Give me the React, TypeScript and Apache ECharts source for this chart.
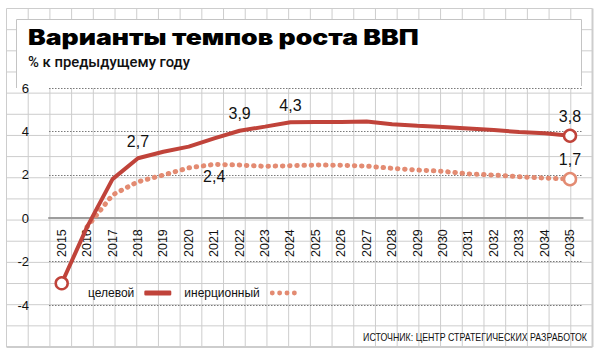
import React, { useEffect, useRef } from "react";
import * as echarts from "echarts";

// ---- data ----
const years = [
  "2015", "2016", "2017", "2018", "2019", "2020", "2021", "2022", "2023", "2024", "2025",
  "2026", "2027", "2028", "2029", "2030", "2031", "2032", "2033", "2034", "2035",
];
const targetValues = [
  -3.0, -0.4, 1.8, 2.76, 3.06, 3.3, 3.68, 4.03, 4.22, 4.42, 4.43,
  4.43, 4.46, 4.33, 4.26, 4.2, 4.13, 4.06, 3.97, 3.91, 3.8,
];
const inertialValues = [
  null, -0.4, 1.07, 1.68, 1.99, 2.32, 2.48, 2.45, 2.39, 2.42, 2.45,
  2.44, 2.4, 2.3, 2.22, 2.16, 2.04, 1.99, 1.91, 1.85, 1.8,
];
const targetLabelYears = ["2018", "2022", "2024", "2035"];
const targetLabelTexts = ["2,7", "3,9", "4,3", "3,8"];
const inertialLabelYears = ["2021", "2035"];
const inertialLabelTexts = ["2,4", "1,7"];
const targetMarkerYears = ["2015", "2035"];
const inertialMarkerYears = ["2035"];
const seriesNames = ["целевой", "инерционный"];
const yTicks = { min: -4, max: 6, interval: 2 };
const titleText = "Варианты темпов роста ВВП";
const subtitleText = "% к предыдущему году";
const sourceText = "ИСТОЧНИК: ЦЕНТР СТРАТЕГИЧЕСКИХ РАЗРАБОТОК";

// ---- style ----
const RED = "#c0433a";
const SALMON = "#e38b72";
const SANS = "'Liberation Sans', Arial, sans-serif";
const GRID = { left: 49, right: 19.3, top: 88, bottom: 53 };
const PLOT_H = 358 - GRID.top - GRID.bottom;

function buildData(
  values: (number | null)[],
  labelYears: string[],
  labelTexts: string[],
  markerYears: string[],
  color: string,
  labelPos: string[]
) {
  return values.map((v, i) => {
    const year = years[i];
    const item: any = { value: v === null ? "-" : v };
    const li = labelYears.indexOf(year);
    const isMarker = markerYears.indexOf(year) >= 0;
    if (isMarker) {
      item.symbolSize = 12;
      item.itemStyle = { color: "#fff", borderColor: color, borderWidth: 2.5 };
    }
    if (li >= 0) {
      item.label = {
        show: true,
        formatter: labelTexts[li],
        position: labelPos[li],
        distance: isMarker ? 4 : labelPos[li] === "bottom" ? 4 : 9,
      };
    }
    return item;
  });
}

const dotsIcon =
  "path://M0,2.5a2.5,2.5 0 1,0 5,0a2.5,2.5 0 1,0 -5,0Z" +
  "M7.5,2.5a2.5,2.5 0 1,0 5,0a2.5,2.5 0 1,0 -5,0Z" +
  "M15,2.5a2.5,2.5 0 1,0 5,0a2.5,2.5 0 1,0 -5,0Z" +
  "M22.5,2.5a2.5,2.5 0 1,0 5,0a2.5,2.5 0 1,0 -5,0Z";

function decorations() {
  const els: any[] = [];
  const x0 = 6.5, x1 = 592.5, y0 = 8.5, y1 = 347;
  const cols = 27, rows = 16;
  for (let k = 0; k <= cols; k++) {
    const x = x0 + (k * (x1 - x0)) / cols;
    els.push({
      type: "line", silent: true, z: -20,
      shape: { x1: x, y1: y0, x2: x, y2: y1 },
      style: { stroke: "#cdcdcd", lineWidth: k === cols ? 2 : 1 },
    });
  }
  for (let k = 0; k <= rows; k++) {
    const y = y0 + (k * (y1 - y0)) / rows;
    els.push({
      type: "line", silent: true, z: -20,
      shape: { x1: x0, y1: y, x2: x1, y2: y },
      style: { stroke: "#cdcdcd", lineWidth: k === rows ? 2 : 1 },
    });
  }
  // white title panel
  els.push({
    type: "rect", silent: true, z: -10,
    shape: { x: 16, y: 19, width: 566, height: 69 },
    style: { fill: "#fff" },
  });
  els.push({
    type: "polyline", silent: true, z: -9,
    shape: { points: [[16.5, 88], [16.5, 19.5], [581.5, 19.5], [581.5, 86]] },
    style: { stroke: "#c4c4c4", lineWidth: 1, fill: null },
  });
  els.push({
    type: "text", z: 10, x: 28, y: 38, scaleX: 1.265,
    style: {
      text: titleText, fill: "#000", font: "900 21px Inter, sans-serif",
      verticalAlign: "middle",
    },
  });
  els.push({
    type: "text", z: 10, x: 28, y: 63, scaleX: 1.06,
    style: {
      text: subtitleText, fill: "#111", font: "500 14px Roboto, sans-serif",
      verticalAlign: "middle",
    },
  });
  els.push({
    type: "text", z: 10, x: 587, y: 337, scaleX: 0.8,
    style: {
      text: sourceText, fill: "#111", font: `11px ${SANS}`,
      align: "right", verticalAlign: "middle",
    },
  });
  return els;
}

export default function App() {
  const ref = useRef<HTMLDivElement>(null);
  useEffect(() => {
    if (!ref.current) return;
    const chart = echarts.init(ref.current, undefined, { renderer: "svg" });
    const zeroOffset = -(PLOT_H * (0 - yTicks.min)) / (yTicks.max - yTicks.min);
    chart.setOption({
      animation: false,
      backgroundColor: "#fff",
      graphic: { elements: decorations() },
      grid: GRID,
      legend: {
        left: 83,
        top: 282,
        align: "right",
        itemWidth: 27,
        itemHeight: 5,
        itemGap: 13,
        textStyle: { fontFamily: SANS, fontSize: 12, color: "#111", padding: [0, 5, 0, 0] },
        data: [
          { name: seriesNames[0], icon: "roundRect", itemStyle: { color: RED, borderWidth: 0 } },
          { name: seriesNames[1], icon: dotsIcon, itemStyle: { color: SALMON, borderWidth: 0 } },
        ],
      },
      xAxis: {
        type: "category",
        data: years,
        boundaryGap: true,
        position: "bottom",
        offset: zeroOffset,
        axisLine: { onZero: false, lineStyle: { color: "#9d9d9d", width: 2 } },
        axisTick: { show: false },
        axisLabel: {
          rotate: 90, interval: 0, margin: 11,
          fontFamily: SANS, fontSize: 12.5, color: "#111",
        },
        splitLine: { show: false },
      },
      yAxis: {
        type: "value",
        min: yTicks.min,
        max: yTicks.max,
        interval: yTicks.interval,
        axisLine: { show: false },
        axisTick: { show: false },
        axisLabel: { margin: 20, fontFamily: SANS, fontSize: 13, color: "#111" },
        splitLine: { lineStyle: { color: "#7a7a7a", width: 1.2, type: [1.5, 1.5] } },
      },
      series: [
        {
          name: seriesNames[1],
          type: "line",
          z: 3,
          data: buildData(inertialValues, inertialLabelYears, inertialLabelTexts, inertialMarkerYears, SALMON, ["bottom", "top"]),
          symbol: "circle",
          symbolSize: 0,
          showAllSymbol: true,
          itemStyle: { color: SALMON },
          lineStyle: { color: SALMON, width: 5, type: [0.5, 6.7], cap: "round" },
          label: { fontFamily: SANS, fontSize: 16, color: "#111" },
          emphasis: { disabled: true },
        },
        {
          name: seriesNames[0],
          type: "line",
          z: 4,
          data: buildData(targetValues, targetLabelYears, targetLabelTexts, targetMarkerYears, RED, ["top", "top", "top", "top"]),
          symbol: "circle",
          symbolSize: 0,
          showAllSymbol: true,
          itemStyle: { color: RED },
          lineStyle: { color: RED, width: 4 },
          label: { fontFamily: SANS, fontSize: 16, color: "#111" },
          emphasis: { disabled: true },
        },
      ],
    });
    return () => chart.dispose();
  }, []);
  return <div ref={ref} style={{ width: 602, height: 358, position: "absolute", left: 0, top: 0 }} />;
}
